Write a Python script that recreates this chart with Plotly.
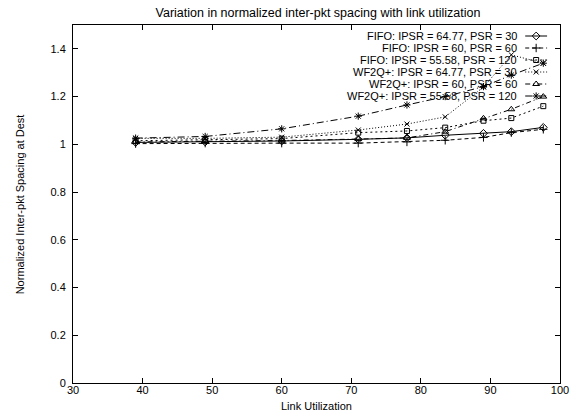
import plotly.graph_objects as go

# ---- data ----
util = [39, 49, 60, 71, 78, 83.5, 89, 93, 97.6]

fifo_6477 = [1.008, 1.010, 1.014, 1.021, 1.027, 1.038, 1.046, 1.053, 1.071]
fifo_60 = [1.003, 1.005, 1.005, 1.005, 1.010, 1.017, 1.029, 1.049, 1.063]
fifo_5558 = [1.015, 1.018, 1.024, 1.049, 1.056, 1.070, 1.099, 1.110, 1.160]
wf_6477 = [1.025, 1.025, 1.030, 1.060, 1.085, 1.115, 1.240, 1.375, 1.340]
wf_60 = [1.010, 1.012, 1.016, 1.022, 1.027, 1.053, 1.109, 1.147, 1.200]
wf_5558 = [1.026, 1.033, 1.065, 1.118, 1.165, 1.200, 1.242, 1.290, 1.340]

series_names = [
    "FIFO: IPSR = 64.77, PSR = 30",
    "FIFO: IPSR = 60, PSR = 60",
    "FIFO: IPSR = 55.58, PSR = 120",
    "WF2Q+: IPSR = 64.77, PSR = 30",
    "WF2Q+: IPSR = 60, PSR = 60",
    "WF2Q+: IPSR = 55.58, PSR = 120",
]
series_values = [fifo_6477, fifo_60, fifo_5558, wf_6477, wf_60, wf_5558]

y_ticks = [0, 0.2, 0.4, 0.6, 0.8, 1, 1.2, 1.4]
x_ticks = [30, 40, 50, 60, 70, 80, 90, 100]

# ---- styles ----
styles = [
    dict(dash="solid", symbol="diamond-open", size=6),
    dict(dash="4px,3px", symbol="cross-thin-open", size=6),
    dict(dash="2px,3px", symbol="square-open", size=5),
    dict(dash="1px,2px", symbol="x-thin-open", size=5),
    dict(dash="5px,3px,1px,3px", symbol="triangle-up-open", size=6),
    dict(dash="7px,3px,1px,3px", symbol="asterisk-open", size=6),
]

FONT = "Liberation Sans, Arial, Helvetica, sans-serif"
W, H = 581, 413
L, R, T, B = 73, 18, 25, 30

fig = go.Figure()
for name, vals, st in zip(series_names, series_values, styles):
    fig.add_trace(go.Scatter(
        x=util, y=vals, mode="lines+markers", name=name, showlegend=False,
        line=dict(color="black", width=1, dash=st["dash"]),
        marker=dict(symbol=st["symbol"], size=st["size"], color="black",
                    line=dict(color="black", width=1)),
    ))

# ---- custom gnuplot-style key (text then sample) ----
plot_w = W - L - R
plot_h = H - T - B
text_right = (522 - L) / plot_w
samp_x0 = (528 - L) / plot_w
samp_x1 = (550 - L) / plot_w
for i, (name, st) in enumerate(zip(series_names, styles)):
    py = 36 + 12 * i
    yy = (H - B - py) / plot_h
    fig.add_annotation(x=text_right, y=yy, xref="paper", yref="paper",
                       text=name, showarrow=False, xanchor="right",
                       yanchor="middle", font=dict(family=FONT, size=11, color="black"))
    fig.add_trace(go.Scatter(
        x=[samp_x0, (samp_x0 + samp_x1) / 2, samp_x1], y=[yy, yy, yy],
        xaxis="x2", yaxis="y2", mode="lines", showlegend=False, hoverinfo="skip",
        line=dict(color="black", width=1, dash=st["dash"]),
    ))
    fig.add_trace(go.Scatter(
        x=[(samp_x0 + samp_x1) / 2], y=[yy],
        xaxis="x2", yaxis="y2", mode="markers", showlegend=False, hoverinfo="skip",
        marker=dict(symbol=st["symbol"], size=st["size"], color="black",
                    line=dict(color="black", width=1)),
    ))

axis_common = dict(
    showgrid=False, zeroline=False, showline=True, linecolor="black", linewidth=1,
    mirror="ticks", ticks="inside", ticklen=5, tickcolor="black", tickwidth=1,
    tickfont=dict(family=FONT, size=11, color="black"),
)

fig.update_layout(
    width=W, height=H,
    margin=dict(l=L, r=R, t=T, b=B, pad=0),
    paper_bgcolor="white", plot_bgcolor="white",
    font=dict(family=FONT, size=11, color="black"),
    title=dict(text="Variation in normalized inter-pkt spacing with link utilization",
               x=(L + plot_w / 2) / W, xanchor="center", xref="container",
               y=1 - 13 / H, yanchor="middle", yref="container",
               font=dict(family=FONT, size=12.5, color="black")),
    xaxis=dict(range=[30, 100], tickvals=x_ticks, ticklabelstandoff=-3, **axis_common),
    yaxis=dict(range=[0, 1.5], tickvals=y_ticks, ticklabelstandoff=4, **axis_common),
    xaxis2=dict(overlaying="x", range=[0, 1], visible=False, fixedrange=True),
    yaxis2=dict(overlaying="y", range=[0, 1], visible=False, fixedrange=True),
    showlegend=False,
)

fig.add_annotation(x=0.5, y=(H - B - 406.5) / plot_h, xref="paper", yref="paper",
                   text="Link Utilization", showarrow=False, xanchor="center",
                   yanchor="middle", font=dict(family=FONT, size=11, color="black"))
fig.add_annotation(x=(20 - L) / plot_w, y=0.5, xref="paper", yref="paper",
                   text="Normalized Inter-pkt Spacing at Dest", showarrow=False,
                   textangle=-90, xanchor="center", yanchor="middle",
                   font=dict(family=FONT, size=11, color="black"))

fig.write_html(
    "out.html",
    config={"displayModeBar": False},
    post_script="document.body.style.margin='0px';document.body.style.overflow='hidden';",
)
